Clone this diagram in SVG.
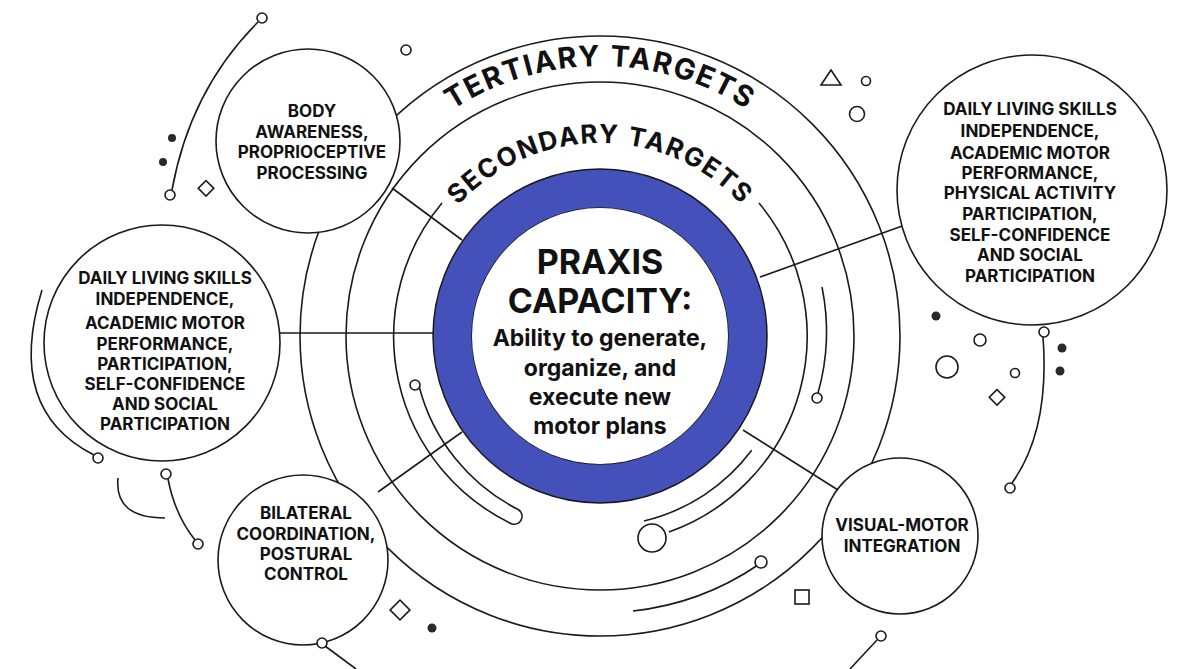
<svg xmlns="http://www.w3.org/2000/svg" width="1200" height="669" viewBox="0 0 1200 669">
<style>
.l{fill:none;stroke:#1a1a1a;stroke-width:1.6}
.n{fill:#fff;stroke:#1a1a1a;stroke-width:1.6}
.r{fill:#fff;stroke:#1a1a1a;stroke-width:1.6}
.d{fill:#2a2a2a}
.t{font-family:Inter,"Liberation Sans",sans-serif;font-weight:700;font-size:17px;fill:#111;text-anchor:middle}
.a{font-family:Inter,"Liberation Sans",sans-serif;font-weight:700;fill:#111}
</style>
<defs>
<path id="tp" d="M330,336 A270,270 0 0 1 870,336"/>
<path id="sp" d="M407,336 A193,193 0 0 1 793,336"/>
</defs>
<rect width="1200" height="669" fill="#fff"/>
<g id="rings">
<circle class="l" cx="600" cy="336" r="300"/>
<circle class="l" cx="600" cy="336" r="254"/>
<path class="l" d="M442,203 A208,208 0 0 0 512,524 A8,8 0 0 0 519,510 A192,192 0 0 1 419,386"/>
<circle class="r" cx="415" cy="385" r="5"/>
<path class="l" d="M759,203 A208,208 0 0 1 669,532"/>
<circle class="l" cx="652" cy="538" r="14"/>
<path class="l" d="M644,521 A190,190 0 0 0 751.7,450.3"/>
<path class="l" d="M822,287 A225,225 0 0 1 818,393"/>
<circle class="r" cx="817" cy="398" r="5"/>
<path class="l" d="M633,611 A277,277 0 0 0 758,565"/>
<circle class="r" cx="761" cy="562" r="6"/>
<text class="a" font-size="29" letter-spacing="1.6"><textPath href="#tp" startOffset="50%" text-anchor="middle">TERTIARY TARGETS</textPath></text>
<text class="a" font-size="26" letter-spacing="1.6"><textPath href="#sp" startOffset="50%" text-anchor="middle">SECONDARY TARGETS</textPath></text>
</g>
<g id="connectors">
<line class="l" x1="392" y1="188" x2="462" y2="240"/>
<line class="l" x1="280" y1="333" x2="433" y2="333"/>
<line class="l" x1="378" y1="492" x2="462" y2="432"/>
<line class="l" x1="760" y1="277" x2="905" y2="225"/>
<line class="l" x1="743" y1="430" x2="838" y2="490"/>
</g>
<g id="center">
<circle cx="600" cy="336" r="147.5" fill="none" stroke="#1a1a1a" stroke-width="40.5"/>
<circle cx="600" cy="336" r="147.5" fill="none" stroke="#4551bb" stroke-width="37.5"/>
<circle cx="600" cy="336" r="128" fill="#fff"/>
<text class="a" font-size="34" text-anchor="middle"><tspan x="600" y="274">PRAXIS</tspan><tspan x="600" y="313">CAPACITY:</tspan></text>
<text class="a" font-size="23" text-anchor="middle" font-weight="600"><tspan x="600" y="346">Ability to generate,</tspan><tspan x="600" y="376">organize, and</tspan><tspan x="600" y="405">execute new</tspan><tspan x="600" y="434">motor plans</tspan></text>
</g>
<g id="node-body">
<circle class="n" cx="308" cy="141" r="92"/>
<text class="t"><tspan x="312" y="117">BODY</tspan><tspan x="312" y="138">AWARENESS,</tspan><tspan x="312" y="158">PROPRIOCEPTIVE</tspan><tspan x="312" y="179">PROCESSING</tspan></text>
</g>
<g id="node-left">
<circle class="n" cx="162" cy="343" r="118"/>
<text class="t"><tspan x="165" y="284">DAILY LIVING SKILLS</tspan><tspan x="165" y="305">INDEPENDENCE,</tspan><tspan x="165" y="329">ACADEMIC MOTOR</tspan><tspan x="165" y="350">PERFORMANCE,</tspan><tspan x="165" y="370">PARTICIPATION,</tspan><tspan x="165" y="390">SELF-CONFIDENCE</tspan><tspan x="165" y="410">AND SOCIAL</tspan><tspan x="165" y="430">PARTICIPATION</tspan></text>
</g>
<g id="node-bilateral">
<circle class="n" cx="303" cy="560" r="85"/>
<text class="t"><tspan x="306" y="519">BILATERAL</tspan><tspan x="306" y="540">COORDINATION,</tspan><tspan x="306" y="560">POSTURAL</tspan><tspan x="306" y="580">CONTROL</tspan></text>
</g>
<g id="node-right">
<circle class="n" cx="1032" cy="190" r="135"/>
<text class="t"><tspan x="1030" y="115">DAILY LIVING SKILLS</tspan><tspan x="1030" y="137">INDEPENDENCE,</tspan><tspan x="1030" y="159">ACADEMIC MOTOR</tspan><tspan x="1030" y="179">PERFORMANCE,</tspan><tspan x="1030" y="199">PHYSICAL ACTIVITY</tspan><tspan x="1030" y="220">PARTICIPATION,</tspan><tspan x="1030" y="241">SELF-CONFIDENCE</tspan><tspan x="1030" y="261">AND SOCIAL</tspan><tspan x="1030" y="282">PARTICIPATION</tspan></text>
</g>
<g id="node-visual">
<circle class="n" cx="900" cy="536" r="78"/>
<text class="t"><tspan x="902" y="531">VISUAL-MOTOR</tspan><tspan x="902" y="552">INTEGRATION</tspan></text>
</g>
<g id="decor">
<path class="l" d="M258,22 Q190,90 172,190"/>
<circle class="r" cx="262" cy="18" r="5"/>
<circle class="r" cx="170" cy="195" r="5"/>
<circle class="d" cx="172" cy="138" r="4"/>
<circle class="d" cx="163" cy="162" r="4"/>
<rect class="l" x="200" y="183" width="11" height="11" transform="rotate(45 206 189)"/>
<path class="l" d="M42,290 Q5,410 94,455"/>
<circle class="r" cx="98" cy="458" r="5"/>
<path class="l" d="M118,478 Q114,518 165,518"/>
<path class="l" d="M168,479 Q175,515 195,540"/>
<circle class="r" cx="166" cy="474" r="5"/>
<circle class="r" cx="198" cy="544" r="5"/>
<rect class="l" x="393" y="603" width="14" height="14" transform="rotate(45 400 610)"/>
<circle class="d" cx="432" cy="628" r="4.5"/>
<path class="l" d="M325,646 L356,669"/>
<circle class="r" cx="322" cy="643" r="5"/>
<path class="l" d="M877,640 L850,669"/>
<circle class="r" cx="881" cy="636" r="5"/>
<rect class="l" x="795" y="590" width="14" height="14"/>
<circle class="r" cx="406" cy="50" r="5"/>
<path class="l" d="M831,70 L841,85 L821,85 Z"/>
<circle class="r" cx="866" cy="81" r="4.5"/>
<circle class="r" cx="857" cy="114" r="7.5"/>
<circle class="d" cx="936" cy="316" r="4.5"/>
<circle class="r" cx="980" cy="340" r="6"/>
<circle class="r" cx="947" cy="367" r="11"/>
<circle class="r" cx="1015" cy="373" r="4.5"/>
<circle class="d" cx="1062" cy="348" r="4.5"/>
<circle class="d" cx="1060" cy="371" r="4.5"/>
<rect class="l" x="991" y="392" width="11" height="11" transform="rotate(45 997 398)"/>
<path class="l" d="M1043,337 Q1050,430 1012,483"/>
<circle class="r" cx="1044" cy="332" r="5"/>
<circle class="r" cx="1010" cy="488" r="5"/>
</g>
</svg>
